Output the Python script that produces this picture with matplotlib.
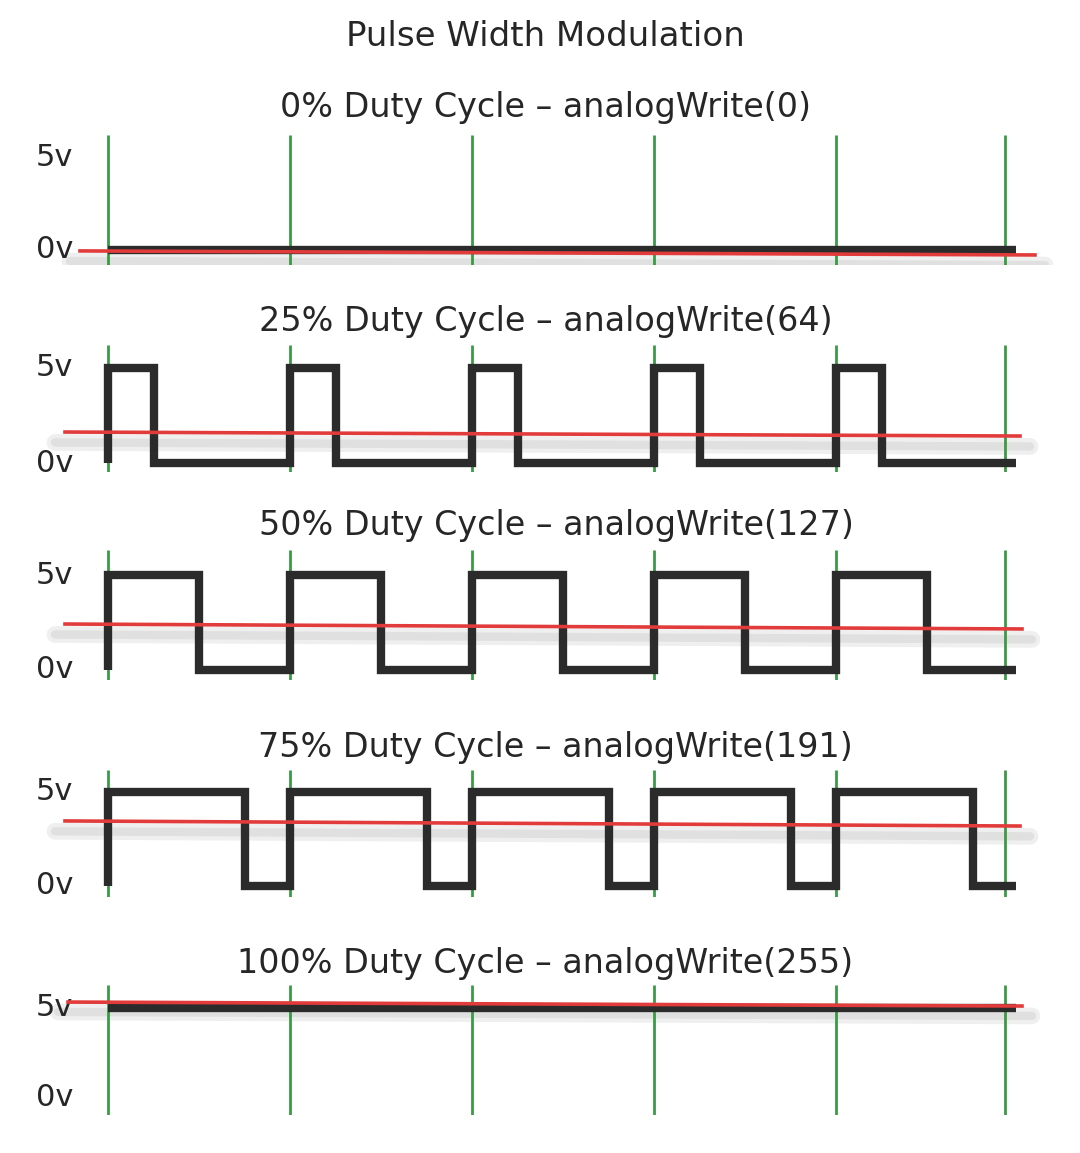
import numpy as np
import matplotlib.pyplot as plt

# duty cycle of each panel and the analogWrite value
duty = [0, 25, 50, 75, 100]
write_vals = [0, 64, 127, 191, 255]
# red average line (volts at left and right end)
avg_start = [-0.05, 1.63, 2.42, 3.46, 5.33]
avg_end = [-0.27, 1.42, 2.16, 3.19, 5.11]
n_periods = 5
signal_end = 4.99
grid_t = [0, 1, 2, 3, 4, 4.93]
level_labels = ['0v', '5v']

# layout in pixels
W, H = 1080, 1153
T0, PX = 108, 182          # pixel of t=0, pixels per period
high_px = [158, 368, 575, 792, 1008]
low_px = [250, 463, 670, 886, 1098]
green_top = [135, 345, 550, 770, 985]
green_bot = [265, 472, 680, 897, 1115]
title_px = [107, 322, 526, 747, 963]
title_cx = [546, 546, 556, 555, 545]
red_x = [(80, 1035), (65, 1020), (65, 1022), (65, 1020), (68, 1022)]

FONT = 'DejaVu Sans'
TXT = '#262626'


def to_t(x):
    return (x - T0) / PX


def pwm_wave(d):
    # square wave: up at each period start, down after d of the period
    if d <= 0:
        return [0, signal_end], [0, 0]
    if d >= 1:
        return [0, signal_end], [5, 5]
    t, v = [], []
    for k in range(n_periods):
        t += [k, k, k + d, k + d]
        v += [0, 5, 5, 0]
    t.append(signal_end)
    v.append(0)
    return t, v


fig = plt.figure(figsize=(W / 100, H / 100), dpi=100)
fig.patch.set_facecolor('white')

fig.text(545 / W, 1 - 37 / H, 'Pulse Width Modulation', ha='center', va='center',
         fontsize=24.5, family=FONT, color=TXT)

for i in range(len(duty)):
    gt, gb = green_top[i], green_bot[i]
    hi, lo = high_px[i], low_px[i]

    def volts(y):
        return 5 * (lo - y) / (lo - hi)

    ax = fig.add_axes([0, 1 - gb / H, 1, (gb - gt) / H])
    ax.set_xlim(to_t(0), to_t(W))
    ax.set_ylim(volts(gb), volts(gt))
    ax.axis('off')

    # green period markers
    ax.vlines(grid_t, volts(gb), volts(gt), color='#3a9a45', lw=2, zorder=2)

    # soft shadow under the average line
    xs = [to_t(red_x[i][0] - 10), to_t(red_x[i][1] + 10)]
    ys = [avg_start[i] - 0.55, avg_end[i] - 0.55]
    ax.plot(xs, ys, color='#efefef', lw=12, solid_capstyle='round', zorder=1)
    ax.plot(xs, ys, color='#e0e0e0', lw=6, solid_capstyle='round', zorder=1)

    # the pwm signal
    t, v = pwm_wave(duty[i] / 100)
    ax.plot(t, v, color='#2b2b2b', lw=6, solid_joinstyle='miter',
            solid_capstyle='butt', zorder=3)

    # average voltage
    ax.plot([to_t(red_x[i][0]), to_t(red_x[i][1])], [avg_start[i], avg_end[i]],
            color='#e23b3b', lw=2.6, zorder=4)

    # level labels
    for lv, lab in zip([0, 5], level_labels):
        ax.text(to_t(73), lv, lab, ha='right', va='center', fontsize=22,
                family=FONT, color=TXT, clip_on=False)

    fig.text(title_cx[i] / W, 1 - title_px[i] / H,
             f'{duty[i]}% Duty Cycle \u2013 analogWrite({write_vals[i]})',
             ha='center', va='center', fontsize=24, family=FONT, color=TXT)

fig.savefig('out.png', dpi=100, facecolor='white')
